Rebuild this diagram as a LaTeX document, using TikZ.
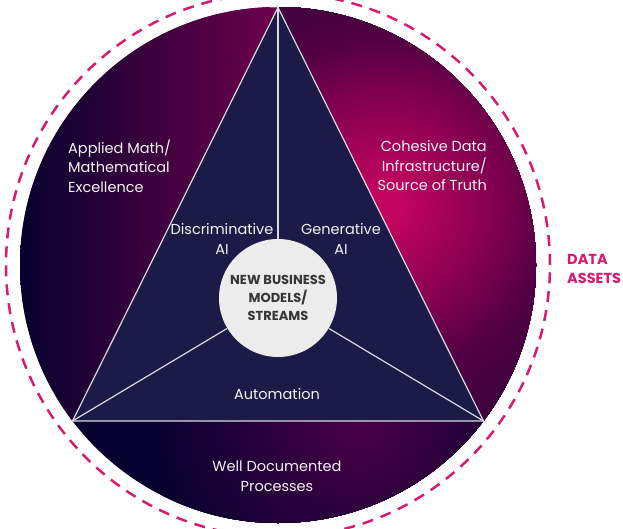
\documentclass[tikz,border=0pt]{standalone}
\usepackage{fontspec}
\setmainfont{Poppins}
\definecolor{navy}{HTML}{1C1A47}
\definecolor{deep}{HTML}{06012E}
\definecolor{hot}{HTML}{C2045F}
\definecolor{rA}{HTML}{8A0052}
\definecolor{rB}{HTML}{4E0042}
\definecolor{rC}{HTML}{2A0536}
\definecolor{lsegR}{HTML}{6A004B}
\definecolor{bseg}{HTML}{480045}
\definecolor{pinkd}{HTML}{D81B6E}
\definecolor{hubfill}{HTML}{ECECEC}
\definecolor{hubtext}{HTML}{363636}
\definecolor{linec}{HTML}{D9D9E2}
\definecolor{txt}{HTML}{F6F2F6}
\newcommand\myrings[6]{%
  \foreach \k in {0,...,30}{%
    \pgfmathsetmacro\myr{#3-(#3-#4)*\k/30}%
    \pgfmathsetmacro\myp{100*\k/30}%
    \fill[#6!\myp!#5] (#1,#2) circle (\myr pt);}}
\begin{document}
\begin{tikzpicture}[x=1pt,y=-1pt,
  lbl/.style={text=txt, inner sep=0pt, font=\fontsize{14.5}{19.5}\selectfont},
  pinklbl/.style={text=pinkd, inner sep=0pt, font=\fontsize{14.5}{19}\selectfont\bfseries},
  edge/.style={draw=linec, line width=1.2pt}]
\useasboundingbox (0,0) rectangle (623,529);
\coordinate (A) at (278,7.5);
\coordinate (BL) at (72.5,421);
\coordinate (BR) at (483.5,421);
% background disc, three segments with their own gradients
\begin{scope}
  \clip (278,265) circle (258pt);
  % left segment
  \begin{scope}
    \clip (0,0) -- (A) -- (BL) -- (0,421) -- cycle;
    \fill[lsegR] (0,0) rectangle (290,421);
    \shade[left color=deep, right color=lsegR] (20,0) rectangle (270,421);
  \end{scope}
  % right segment
  \begin{scope}
    \clip (A) -- (623,0) -- (623,421) -- (BR) -- cycle;
    \fill[rC] (260,0) rectangle (623,421);
    \myrings{385}{205}{300}{175}{rC}{rB}
    \myrings{385}{205}{175}{100}{rB}{rA}
    \myrings{385}{205}{100}{18}{rA}{hot}
  \end{scope}
  % bottom segment
  \begin{scope}
    \clip (0,421) rectangle (623,529);
    \fill[deep] (0,421) rectangle (623,529);
    \myrings{360}{425}{210}{8}{deep}{bseg}
  \end{scope}
\end{scope}
% dashed ring
\draw[pinkd, line width=2.5pt, dash pattern=on 11pt off 8pt] (278,265) circle (272pt);
% triangle
\filldraw[fill=navy, edge, line join=miter] (A) -- (BL) -- (BR) -- cycle;
% hub
\node[circle, fill=hubfill, minimum size=118pt, inner sep=0pt, align=center,
      text=hubtext, font=\fontsize{13}{18}\selectfont\bfseries] (hub) at (278,298)
      {NEW BUSINESS\\MODELS/\\STREAMS};
\draw[edge] (A) -- (hub);
\draw[edge] (hub) -- (BL);
\draw[edge] (hub) -- (BR);
% labels
\node[lbl, anchor=west, align=left] (math) at (68,166) {Applied Math/\\Mathematical\\Excellence};
\node[lbl, anchor=east, align=right] (cohesive) at (487,166) {Cohesive Data\\Infrastructure/\\Source of Truth};
\node[lbl, align=center] (disc) at (222,239) {Discriminative\\AI};
\node[lbl, align=center] (gen) at (341,239) {Generative\\AI};
\node[lbl] (auto) at (277,394) {Automation};
\node[lbl, align=center] (well) at (277,476) {Well Documented\\Processes};
\node[pinklbl, anchor=west, align=left] (data) at (567,269) {DATA\\ASSETS};
\end{tikzpicture}
\end{document}
